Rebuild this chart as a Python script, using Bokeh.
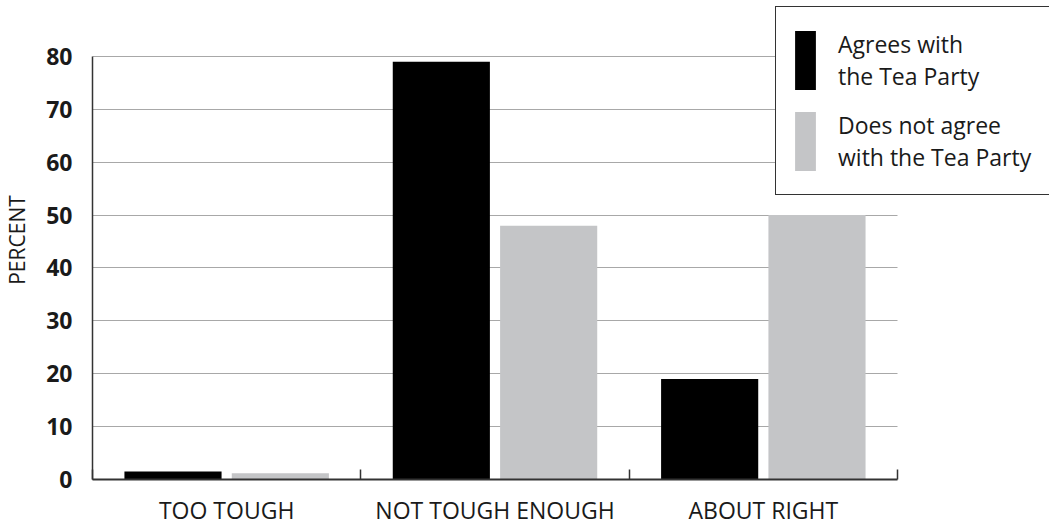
from bokeh.plotting import figure
from bokeh.models import (Range1d, FixedTicker, ColumnDataSource, Legend, LegendItem, Grid)
from bokeh.transform import dodge
from bokeh.embed import file_html
from bokeh.resources import INLINE

categories = ["TOO TOUGH", "NOT TOUGH ENOUGH", "ABOUT RIGHT"]
agrees = [1.5, 79, 19]
does_not_agree = [1.2, 48, 50]
y_ticks = [0, 10, 20, 30, 40, 50, 60, 70, 80]
series_labels = ["Agrees with\nthe Tea Party", "Does not agree\nwith the Tea Party"]
y_title = "PERCENT"

FONT = "Open Sans"
TEXT = "#1a1a1a"
AXIS = "#333333"

n = len(categories)
centers = [i + 0.5 for i in range(n)]          # category slot centres
edges = list(range(n + 1))                      # category slot boundaries

src = ColumnDataSource(dict(pos=centers, cat=categories, agrees=agrees, not_agree=does_not_agree))

# frame extends to the top/right canvas edges so the legend can sit there
p = figure(x_range=Range1d(0, 3.5665), y_range=Range1d(0, 90.59),
           width=1049, height=528,
           output_backend="svg", toolbar_location=None,
           min_border_left=92, min_border_right=0, min_border_top=0, min_border_bottom=49)
p.outline_line_color = None
p.background_fill_color = "white"
p.border_fill_color = "white"

r1 = p.vbar(x=dodge("pos", -0.2), top="agrees", width=0.362, source=src,
            fill_color="black", line_color=None)
r2 = p.vbar(x=dodge("pos", 0.2), top="not_agree", width=0.362, source=src,
            fill_color="#c4c5c7", line_color=None)

# y axis
p.yaxis.ticker = FixedTicker(ticks=y_ticks)
p.yaxis.bounds = (y_ticks[0], y_ticks[-1])
p.yaxis.major_tick_line_color = None
p.yaxis.major_tick_out = 0
p.yaxis.major_tick_in = 0
p.yaxis.minor_tick_line_color = None
p.yaxis.axis_line_color = AXIS
p.yaxis.axis_line_width = 1.5
p.yaxis.major_label_text_font = FONT
p.yaxis.major_label_text_font_style = "bold"
p.yaxis.major_label_text_font_size = "23px"
p.yaxis.major_label_text_color = TEXT
p.yaxis.major_label_standoff = 20
p.yaxis.axis_label = y_title
p.yaxis.axis_label_text_font = FONT
p.yaxis.axis_label_text_font_style = "normal"
p.yaxis.axis_label_text_font_size = "21px"
p.yaxis.axis_label_text_color = TEXT
p.yaxis.axis_label_standoff = 12
p.ygrid.grid_line_color = "#a8a8a8"
p.ygrid.grid_line_width = 1
if "cross_bounds" in Grid.properties():
    p.ygrid.cross_bounds = (edges[0], edges[-1])

# x axis: category names at slot centres, boundary ticks as minor ticks
p.xaxis.ticker = FixedTicker(ticks=centers, minor_ticks=edges)
p.xaxis.bounds = (edges[0], edges[-1])
p.xaxis.major_label_overrides = {c: name for c, name in zip(centers, categories)}
p.xaxis.major_tick_line_color = None
p.xaxis.major_tick_out = 0
p.xaxis.major_tick_in = 0
p.xaxis.minor_tick_line_color = AXIS
p.xaxis.minor_tick_line_width = 1.5
p.xaxis.minor_tick_in = 10
p.xaxis.minor_tick_out = 0
p.xaxis.axis_line_color = AXIS
p.xaxis.axis_line_width = 2
p.xaxis.major_label_standoff = 14
p.xaxis.major_label_text_font = FONT
p.xaxis.major_label_text_font_size = "23px"
p.xaxis.major_label_text_color = TEXT
p.xgrid.grid_line_color = None

legend = Legend(items=[LegendItem(label=series_labels[0], renderers=[r1]),
                       LegendItem(label=series_labels[1], renderers=[r2])],
                location=(683, 284), orientation="vertical",
                glyph_width=26, glyph_height=74, spacing=7, padding=16, margin=0,
                label_standoff=20, label_width=330,
                label_text_font=FONT, label_text_font_size="23px", label_text_color=TEXT,
                label_text_line_height=1.43,
                border_line_color=AXIS, border_line_alpha=1, border_line_width=1,
                background_fill_color="white", background_fill_alpha=1)
p.add_layout(legend)

open("out.html", "w").write(file_html(p, INLINE))
